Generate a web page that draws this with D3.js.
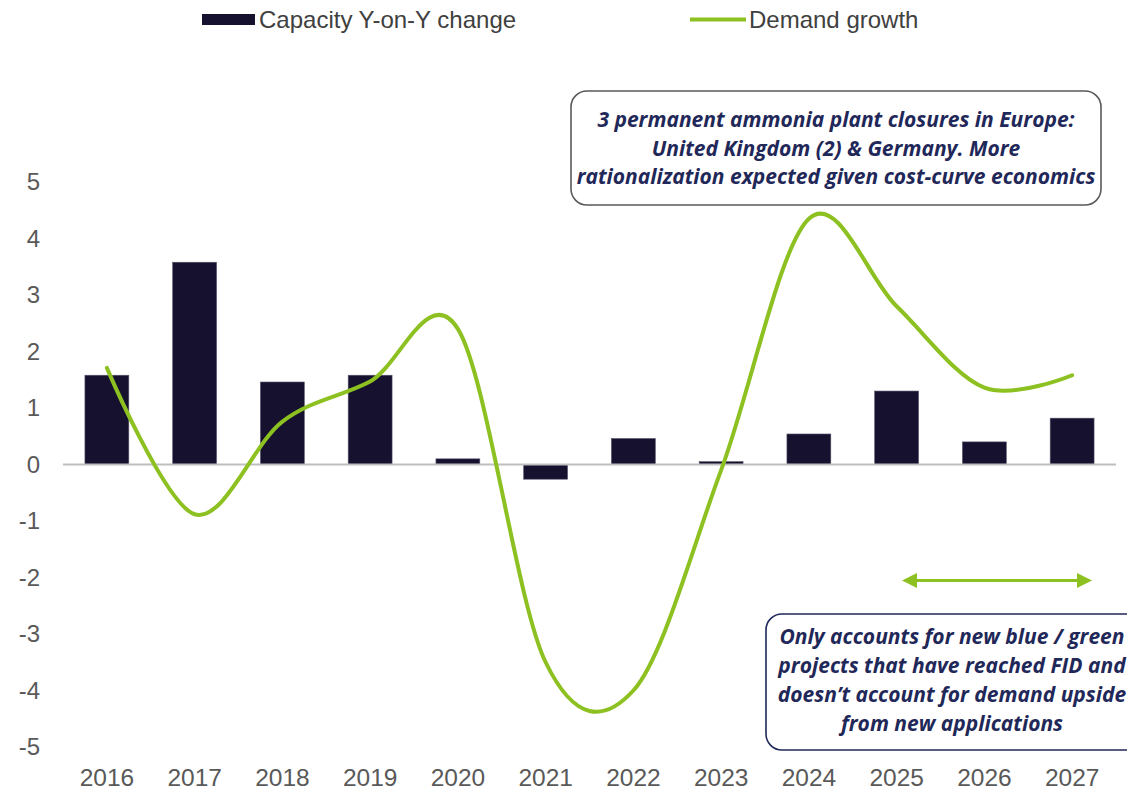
<!DOCTYPE html>
<html>
<head>
<meta charset="utf-8">
<script src="https://cdn.jsdelivr.net/npm/d3@7"></script>
<style>
  body { margin: 0; background: #fff; }
  svg { display: block; }
</style>
</head>
<body>
<svg id="chart" width="1127" height="792"></svg>
<script>
const years = ["2016", "2017", "2018", "2019", "2020", "2021", "2022", "2023", "2024", "2025", "2026", "2027"];
const capacity = [1.58, 3.58, 1.46, 1.58, 0.1, -0.26, 0.46, 0.05, 0.54, 1.3, 0.4, 0.82];
const demand = [1.71, -0.88, 0.76, 1.47, 2.4, -3.5, -4.0, -0.1, 4.35, 2.8, 1.36, 1.58];
const yTicks = [5, 4, 3, 2, 1, 0, -1, -2, -3, -4, -5];

const noteTop = [
  "3 permanent ammonia plant closures in Europe:",
  "United Kingdom (2) & Germany. More",
  "rationalization expected given cost-curve economics"
];
const noteBottom = [
  "Only accounts for new blue / green",
  "projects that have reached FID and",
  "doesn\u2019t account for demand upside",
  "from new applications"
];

const svg = d3.select("#chart");
const barColor = "#15112f";
const green = "#8dc021";
const navy = "#1f2858";
const labelFont = "Liberation Sans, Arial, sans-serif";

const x = d3.scaleBand().domain(years).range([63, 1116]).paddingInner(0.5).paddingOuter(0.25);
const y = d3.scaleLinear().domain([-5, 5]).range([747, 182]);
const cx = d => x(d) + x.bandwidth() / 2;

// y axis labels
const yAxis = svg.append("g")
  .attr("transform", "translate(48,0)")
  .call(d3.axisLeft(y).tickValues(yTicks).tickSize(0).tickPadding(8).tickFormat(d => String(d)));
yAxis.select(".domain").remove();
yAxis.selectAll("text")
  .attr("font-family", labelFont)
  .attr("font-size", 24)
  .attr("fill", "#595959");

// x axis labels
const xAxis = svg.append("g")
  .attr("transform", "translate(0,763)")
  .call(d3.axisBottom(x).tickSize(0).tickPadding(6));
xAxis.select(".domain").remove();
xAxis.selectAll("text")
  .attr("font-family", labelFont)
  .attr("font-size", 24.5)
  .attr("fill", "#595959");

// bars
svg.append("g")
  .selectAll("rect")
  .data(years)
  .join("rect")
  .attr("x", d => x(d))
  .attr("width", x.bandwidth())
  .attr("y", (d, i) => y(Math.max(0, capacity[i])))
  .attr("height", (d, i) => Math.abs(y(capacity[i]) - y(0)))
  .attr("fill", barColor)
  .attr("stroke", "#55536a")
  .attr("stroke-width", 0.6);

// zero line
svg.append("line")
  .attr("x1", x.range()[0])
  .attr("x2", x.range()[1])
  .attr("y1", y(0))
  .attr("y2", y(0))
  .attr("stroke", "#bfbfbf")
  .attr("stroke-width", 2);

// demand line
const line = d3.line()
  .x((d, i) => cx(years[i]))
  .y(d => y(d))
  .curve(d3.curveCardinal.tension(0));

svg.append("path")
  .datum(demand)
  .attr("d", line)
  .attr("fill", "none")
  .attr("stroke", green)
  .attr("stroke-width", 4)
  .attr("stroke-linecap", "round");

// legend
const legend = svg.append("g").attr("font-family", labelFont).attr("font-size", 24).attr("fill", "#404040");
legend.append("rect").attr("x", 202).attr("y", 14).attr("width", 53).attr("height", 11).attr("fill", barColor);
legend.append("text").attr("x", 259).attr("y", 28).text("Capacity Y-on-Y change");
legend.append("line").attr("x1", 690).attr("x2", 746).attr("y1", 19.5).attr("y2", 19.5).attr("stroke", green).attr("stroke-width", 4);
legend.append("text").attr("x", 749).attr("y", 28).text("Demand growth");

// annotation boxes
function note(lines, box, stroke, textX, firstY, gap) {
  const g = svg.append("g");
  g.append("rect")
    .attr("x", box[0]).attr("y", box[1])
    .attr("width", box[2]).attr("height", box[3])
    .attr("rx", 16).attr("ry", 16)
    .attr("fill", "#fff")
    .attr("stroke", stroke)
    .attr("stroke-width", 1.6);
  g.selectAll("text")
    .data(lines)
    .join("text")
    .attr("x", textX)
    .attr("y", (d, i) => firstY + i * gap)
    .attr("text-anchor", "middle")
    .attr("font-family", "'Open Sans', Lato, sans-serif")
    .attr("font-style", "italic")
    .attr("font-weight", "bold")
    .attr("font-size", 21)
    .attr("fill", navy)
    .text(d => d);
}
note(noteTop, [571, 91, 530, 114], "#595959", 836, 127, 28.5);
note(noteBottom, [766, 614, 384, 136], navy, 952, 644, 29);

// arrow
const defs = svg.append("defs");
defs.append("marker")
  .attr("id", "head")
  .attr("viewBox", "0 0 10 10")
  .attr("refX", 8).attr("refY", 5)
  .attr("markerWidth", 5).attr("markerHeight", 5)
  .attr("orient", "auto-start-reverse")
  .append("path")
  .attr("d", "M0,0 L10,5 L0,10 Z")
  .attr("fill", green);

svg.append("line")
  .attr("x1", 905).attr("x2", 1089)
  .attr("y1", 580.5).attr("y2", 580.5)
  .attr("stroke", green)
  .attr("stroke-width", 3)
  .attr("marker-start", "url(#head)")
  .attr("marker-end", "url(#head)");
</script>
</body>
</html>
